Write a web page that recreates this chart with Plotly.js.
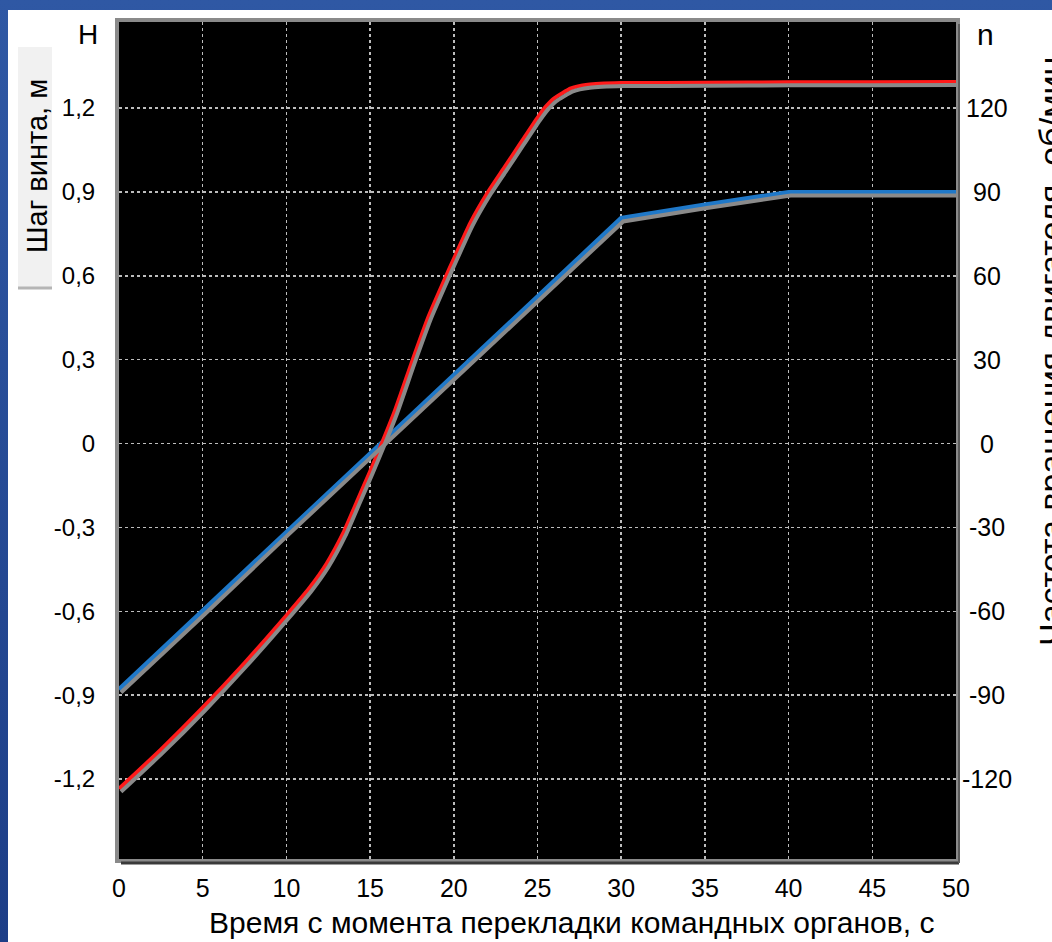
<!DOCTYPE html>
<html><head><meta charset="utf-8">
<script src="https://cdn.plot.ly/plotly-3.0.1.min.js"></script>
<style>
html,body{margin:0;padding:0;width:1052px;height:942px;overflow:hidden;}
body{background:linear-gradient(180deg,#2f58a4 0%,#1d3e87 100%);position:relative;}
#panel{position:absolute;left:8px;top:10px;right:0;bottom:0;background:#fff;}
#chart{position:absolute;left:0;top:0;width:1052px;height:942px;}
</style></head><body><div id="panel"></div><div id="chart"></div>
<script>
// Blue: propeller pitch H, m (left axis)
const timeBlue = [0, 5, 10, 15, 20, 25, 30, 35, 40, 45, 50];
const pitchH   = [-0.88, -0.60, -0.315, -0.035, 0.245, 0.525, 0.805, 0.853, 0.898, 0.898, 0.898];
// Red: engine speed n, rpm (right axis)
const timeRed = [0, 2.5, 5, 7.5, 10, 11.4, 12.4, 13.4, 14.2, 15, 15.7, 16.5, 17.55, 18.5, 19.55, 20, 21, 22, 23, 24, 25, 25.5, 26, 27, 28, 30, 35, 40, 45, 50];
const speedN  = [-123.5, -109.5, -94.5, -78.5, -61.5, -51.5, -43, -32, -21, -10, 0, 12, 30, 45.5, 60, 66, 79, 89.5, 98.5, 107.5, 116.5, 120.5, 123.5, 127, 128.3, 128.9, 129, 129.2, 129.2, 129.3];

const xTickVals = [0, 5, 10, 15, 20, 25, 30, 35, 40, 45, 50];
const hTickVals = [-1.2, -0.9, -0.6, -0.3, 0, 0.3, 0.6, 0.9, 1.2];
const hTickText = ['-1,2', '-0,9', '-0,6', '-0,3', '0', '0,3', '0,6', '0,9', '1,2'];
const nTickVals = [-120, -90, -60, -30, 0, 30, 60, 90, 120];
const nTickText = ['-120', '-90', '-60', '-30', '0', '30', '60', '90', '120'];

const xTitle = 'Время с момента перекладки командных органов, с';
const yTitle = 'Шаг винта, м';
const y2Title = 'Частота вращения двигателя, об/мин';

// geometry helpers (pixel -> paper)
const W = 1052, H = 942, ML = 119, MR = 96, MT = 22, MB = 83;
const PW = W - ML - MR, PH = H - MT - MB;
const px = x => (x - ML) / PW;
const py = y => (H - MB - y) / PH;

const xRange = [0, 50];
const hRange = [-1.486, 1.5076];
const nRange = [hRange[0] * 100, hRange[1] * 100];
// shadow offsets (2px right, 3px down)
const dxU = 2 * (xRange[1] - xRange[0]) / PW;
const dyH = 3 * (hRange[1] - hRange[0]) / PH;
const dyN = dyH * 100;

const sans = '"Liberation Sans", Arial, sans-serif';

const traces = [
  {x: timeBlue, y: pitchH, xaxis: 'x2', yaxis: 'y3', mode: 'lines', line: {color: '#8a8a8a', width: 4}, hoverinfo: 'skip', showlegend: false},
  {x: timeRed, y: speedN, xaxis: 'x2', yaxis: 'y4', mode: 'lines', line: {color: '#8a8a8a', width: 4, shape: 'spline', smoothing: 0.5}, hoverinfo: 'skip', showlegend: false},
  {x: timeBlue, y: pitchH, xaxis: 'x', yaxis: 'y', mode: 'lines', line: {color: '#1f78c8', width: 5}, name: 'H', showlegend: false},
  {x: timeRed, y: speedN, xaxis: 'x', yaxis: 'y2', mode: 'lines', line: {color: '#ff1a1a', width: 4, shape: 'spline', smoothing: 0.5}, name: 'n', showlegend: false}
];

const annotations = [
  {text: 'H', xref: 'paper', yref: 'paper', x: px(88), y: py(35), showarrow: false, xanchor: 'center', yanchor: 'middle', font: {family: sans, size: 28, color: '#000'}},
  {text: 'n', xref: 'paper', yref: 'paper', x: px(985), y: py(35), showarrow: false, xanchor: 'center', yanchor: 'middle', font: {family: sans, size: 30, color: '#000'}},
  {text: xTitle, xref: 'paper', yref: 'paper', x: px(571), y: py(922), showarrow: false, xanchor: 'center', yanchor: 'middle', font: {family: sans, size: 30, color: '#000'}},
  {text: yTitle, xref: 'paper', yref: 'paper', x: px(37), y: py(166), showarrow: false, textangle: -90, xanchor: 'center', yanchor: 'middle', font: {family: sans, size: 29, color: '#000'}},
  {text: y2Title, xref: 'paper', yref: 'paper', x: px(1051), y: py(352), showarrow: false, textangle: -90, xanchor: 'center', yanchor: 'middle', font: {family: sans, size: 34, color: '#000'}}
];
nTickVals.forEach((v, i) => annotations.push({
  text: nTickText[i], xref: 'paper', yref: 'y2', x: px(987), y: v, showarrow: false,
  xanchor: 'center', yanchor: 'middle', font: {family: sans, size: 25, color: '#000'}
}));

const shapes = [
  {type: 'rect', xref: 'paper', yref: 'paper', x0: px(18), x1: px(52), y0: py(289), y1: py(47), line: {width: 0}, fillcolor: '#f1f1f1', layer: 'below'},
  {type: 'line', xref: 'paper', yref: 'paper', x0: px(18), x1: px(52), y0: py(288), y1: py(288), line: {width: 3, color: '#b5b5b5'}},
  {type: 'line', xref: 'paper', yref: 'paper', x0: px(121), x1: px(959), y0: py(863), y1: py(863), line: {width: 3, color: '#3a3a3a'}},
  {type: 'line', xref: 'paper', yref: 'paper', x0: px(959), x1: px(959), y0: py(863), y1: py(24), line: {width: 2, color: '#5a5a5a'}}
];

const grid = {showgrid: true, gridcolor: '#bdbdbd', gridwidth: 1.5, griddash: 'dot'};

const layout = {
  width: W, height: H,
  margin: {l: ML, r: MR, t: MT, b: MB, pad: 0},
  paper_bgcolor: 'rgba(0,0,0,0)',
  plot_bgcolor: '#000000',
  showlegend: false,
  xaxis: Object.assign({
    range: xRange, tickmode: 'array', tickvals: xTickVals, ticktext: xTickVals.map(String),
    ticks: 'outside', ticklen: 4, tickcolor: 'rgba(0,0,0,0)',
    tickfont: {family: sans, size: 25, color: '#000'},
    showline: true, linecolor: '#8a8a8a', linewidth: 4, mirror: true, zeroline: false
  }, grid),
  yaxis: Object.assign({
    range: hRange, tickmode: 'array', tickvals: hTickVals, ticktext: hTickText,
    ticks: 'outside', ticklen: 15, tickcolor: 'rgba(0,0,0,0)',
    tickfont: {family: sans, size: 24, color: '#000'},
    showline: true, linecolor: '#8a8a8a', linewidth: 4, mirror: true, zeroline: false
  }, grid),
  yaxis2: {range: nRange, overlaying: 'y', side: 'right', showgrid: false, zeroline: false,
    showticklabels: false, ticks: '', showline: false},
  xaxis2: {range: [xRange[0] - dxU, xRange[1] - dxU], overlaying: 'x', visible: false},
  yaxis3: {range: [hRange[0] + dyH, hRange[1] + dyH], overlaying: 'y', visible: false},
  yaxis4: {range: [nRange[0] + dyN, nRange[1] + dyN], overlaying: 'y', visible: false},
  annotations: annotations,
  shapes: shapes
};

Plotly.newPlot('chart', traces, layout, {displayModeBar: false, staticPlot: true});
</script></body></html>
